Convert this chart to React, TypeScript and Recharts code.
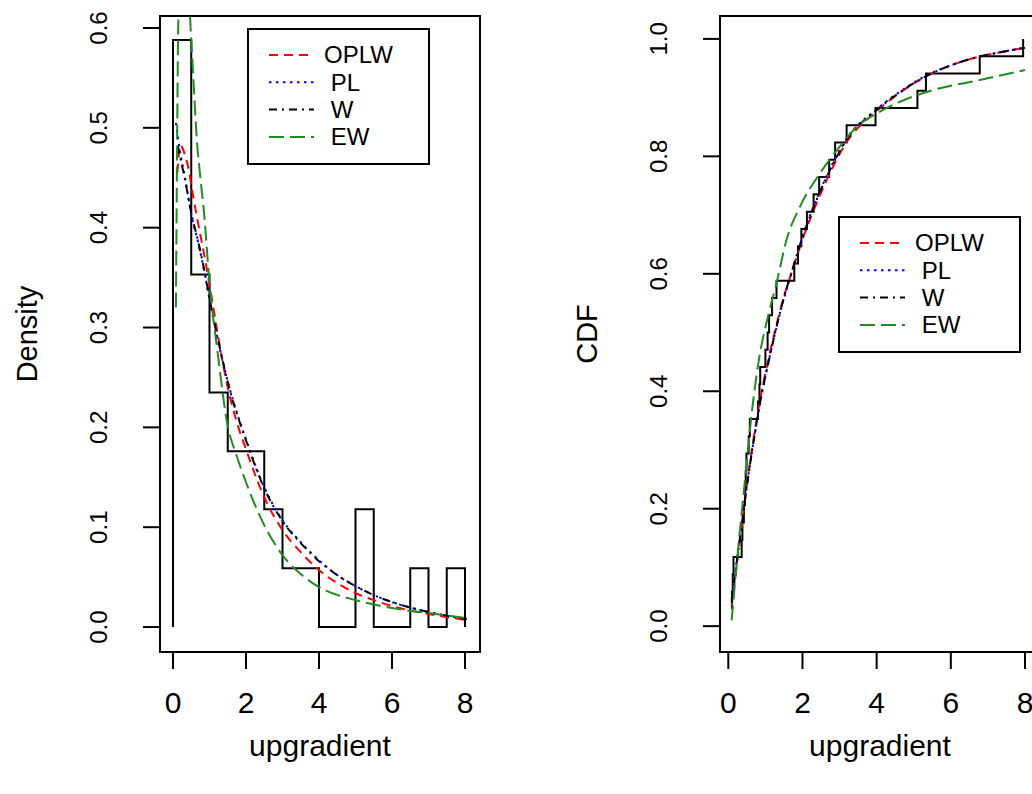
import React from 'react';
import { LineChart, Line, XAxis, YAxis, ReferenceArea, Legend } from 'recharts';

const FONT = '"Liberation Sans", Arial, Helvetica, sans-serif';

// ---- left panel: histogram (density scale, bins of 0.5) ----
const histBreaks = [0, 0.5, 1, 1.5, 2, 2.5, 3, 3.5, 4, 4.5, 5, 5.5, 6, 6.5, 7, 7.5, 8];
const histDensity = [0.588, 0.353, 0.235, 0.176, 0.176, 0.118, 0.059, 0.059, 0, 0, 0.118, 0, 0, 0.059, 0, 0.059];

// fitted densities
const pdfOplwX = [0.12, 0.2, 0.3, 0.42, 0.56, 0.69, 0.88, 1.06, 1.25, 1.5, 1.75, 2.0, 2.5, 3.0, 3.5, 4.0, 4.5, 5.0, 5.5, 6.0, 7.0, 8.05];
const pdfOplwY = [0.455, 0.483, 0.476, 0.46, 0.43, 0.404, 0.368, 0.33, 0.288, 0.24, 0.205, 0.178, 0.13, 0.097, 0.075, 0.057, 0.044, 0.034, 0.027, 0.021, 0.013, 0.007];

const pdfPlX = [0.08, 0.19, 0.33, 0.51, 0.69, 0.88, 1.0, 1.25, 1.56, 2.0, 2.5, 3.0, 3.5, 4.0, 4.5, 5.0, 5.5, 6.0, 7.0, 8.05];
const pdfPlY = [0.505, 0.477, 0.45, 0.412, 0.385, 0.352, 0.328, 0.284, 0.238, 0.188, 0.14, 0.107, 0.085, 0.067, 0.052, 0.041, 0.032, 0.025, 0.015, 0.008];

const pdfWX = [0.13, 0.2, 0.33, 0.51, 0.69, 0.88, 1.0, 1.25, 1.56, 2.0, 2.5, 3.0, 3.5, 4.0, 4.5, 5.0, 5.5, 6.0, 7.0, 8.05];
const pdfWY = [0.482, 0.47, 0.448, 0.413, 0.386, 0.353, 0.329, 0.285, 0.237, 0.187, 0.139, 0.106, 0.084, 0.066, 0.052, 0.041, 0.032, 0.025, 0.015, 0.008];

const pdfEwX = [0.08, 0.1, 0.13, 0.17, 0.22, 0.3, 0.38, 0.47, 0.55, 0.65, 0.75, 0.85, 1.0, 1.24, 1.48, 1.74, 2.0, 2.5, 3.0, 3.5, 4.0, 5.0, 6.0, 7.0, 8.05];
const pdfEwY = [0.32, 0.42, 0.56, 0.66, 0.73, 0.76, 0.7, 0.61, 0.555, 0.49, 0.45, 0.415, 0.345, 0.27, 0.205, 0.172, 0.145, 0.102, 0.072, 0.053, 0.04, 0.027, 0.019, 0.014, 0.009];

// ---- right panel: sorted sample for the empirical cdf ----
const sample = [
  0.09, 0.1, 0.12, 0.14, 0.36, 0.38, 0.42, 0.45, 0.47, 0.49,
  0.55, 0.58, 0.8, 0.84, 0.86, 1.0, 1.06, 1.1, 1.18, 1.3,
  1.78, 1.88, 1.97, 2.12, 2.3, 2.45, 2.72, 2.88, 3.19, 3.97,
  5.1, 5.33, 6.78, 7.95,
];

// fitted cdfs
const cdfX = [0.09, 0.23, 0.36, 0.5, 0.67, 0.9, 1.12, 1.48, 1.75, 2.02, 2.38, 2.83, 3.19, 4.0, 4.6, 5.35, 6.0, 6.78, 7.4, 8.0];
const cdfOplwY = [0.035, 0.105, 0.17, 0.24, 0.315, 0.4, 0.465, 0.557, 0.61, 0.662, 0.72, 0.783, 0.824, 0.877, 0.907, 0.937, 0.955, 0.97, 0.978, 0.985];
const cdfPlY = [0.045, 0.113, 0.175, 0.24, 0.31, 0.395, 0.46, 0.553, 0.611, 0.667, 0.727, 0.79, 0.83, 0.88, 0.909, 0.938, 0.955, 0.97, 0.978, 0.985];
const cdfWY = [0.04, 0.11, 0.172, 0.238, 0.31, 0.395, 0.46, 0.555, 0.612, 0.666, 0.726, 0.788, 0.828, 0.879, 0.908, 0.937, 0.955, 0.97, 0.978, 0.985];

const cdfEwX = [0.09, 0.27, 0.45, 0.63, 0.81, 1.08, 1.3, 1.57, 1.93, 2.47, 3.01, 3.46, 4.0, 4.63, 5.53, 6.78, 8.0];
const cdfEwY = [0.01, 0.135, 0.249, 0.362, 0.448, 0.53, 0.584, 0.658, 0.714, 0.771, 0.817, 0.85, 0.873, 0.893, 0.913, 0.93, 0.947];

const xTicks = [0, 2, 4, 6, 8];
const pdfTicks = [0, 0.1, 0.2, 0.3, 0.4, 0.5, 0.6];
const cdfTicks = [0, 0.2, 0.4, 0.6, 0.8, 1];

const SERIES = [
  { key: 'OPLW', label: 'OPLW', color: '#ff0000', dash: '9 6' },
  { key: 'PL', label: ' PL', color: '#0000ff', dash: '2.5 4.5' },
  { key: 'W', label: ' W', color: '#000000', dash: '8 5 2 5' },
  { key: 'EW', label: ' EW', color: '#228b22', dash: '15 6' },
];

const zip = (xs: number[], ys: number[]) => xs.map((x, i) => ({ x, y: ys[i] }));

// outline of the histogram: rise at the first break, one level per bin, drop at the last break
const histSteps = [
  { x: histBreaks[0], y: 0 },
  ...histDensity.map((d, i) => ({ x: histBreaks[i], y: d })),
  { x: histBreaks[histBreaks.length - 1], y: 0 },
];

const ecdfSteps = sample.map((x, i) => ({ x, y: (i + 1) / sample.length }));

const pdfCurves = [zip(pdfOplwX, pdfOplwY), zip(pdfPlX, pdfPlY), zip(pdfWX, pdfWY), zip(pdfEwX, pdfEwY)];
const cdfCurves = [zip(cdfX, cdfOplwY), zip(cdfX, cdfPlY), zip(cdfX, cdfWY), zip(cdfEwX, cdfEwY)];

const XTick = ({ x, y, payload }: any) => (
  <text x={x} y={y + 44} textAnchor="middle" fontSize={30} fontFamily={FONT} fill="#000">
    {payload.value}
  </text>
);

const YTick = ({ x, y, payload }: any) => (
  <text transform={`translate(${x - 36},${y}) rotate(-90)`} textAnchor="middle" fontSize={24} fontFamily={FONT} fill="#000">
    {Number(payload.value).toFixed(1)}
  </text>
);

// legend drawn in series order (the library hands the payload over reversed)
const LegendBox = () => (
  <svg width={183} height={137} style={{ display: 'block' }}>
    <rect x={1} y={1} width={181} height={135} fill="#fff" stroke="#000" strokeWidth={2} />
    {SERIES.map((s, i) => {
      const cy = 27 + i * 27.3;
      return (
        <g key={s.key}>
          <line x1={22} x2={67} y1={cy} y2={cy} stroke={s.color} strokeWidth={2} strokeDasharray={s.dash} />
          <text x={77} y={cy} dy="0.35em" fontSize={24} fontFamily={FONT} fill="#000" style={{ whiteSpace: 'pre' }}>
            {s.label}
          </text>
        </g>
      );
    })}
  </svg>
);

interface PanelProps {
  left: number;
  xDomain: [number, number];
  yDomain: [number, number];
  yTicks: number[];
  yTitle: string;
  steps: { x: number; y: number }[];
  curves: { x: number; y: number }[][];
  legendLeft: number;
  legendTop: number;
}

function Panel({ left, xDomain, yDomain, yTicks, yTitle, steps, curves, legendLeft, legendTop }: PanelProps) {
  return (
    <div style={{ position: 'absolute', left, top: 0 }}>
      <LineChart width={516} height={794} margin={{ top: 16, right: 36, bottom: 0, left: 0 }}>
        <XAxis
          type="number"
          dataKey="x"
          domain={xDomain}
          ticks={xTicks}
          interval={0}
          allowDataOverflow
          height={142}
          tickSize={17}
          tickMargin={0}
          axisLine={false}
          tickLine={{ stroke: '#000', strokeWidth: 2 }}
          tick={<XTick />}
          label={(p: any) => (
            <text x={p.viewBox.x + p.viewBox.width / 2} y={p.viewBox.y + 104} textAnchor="middle" fontSize={30} fontFamily={FONT} fill="#000">
              upgradient
            </text>
          )}
        />
        <YAxis
          type="number"
          domain={yDomain}
          ticks={yTicks}
          interval={0}
          allowDataOverflow
          width={160}
          tickSize={17}
          tickMargin={0}
          axisLine={false}
          tickLine={{ stroke: '#000', strokeWidth: 2 }}
          tick={<YTick />}
          label={(p: any) => (
            <text
              transform={`translate(${p.viewBox.x + 37},${p.viewBox.y + p.viewBox.height / 2}) rotate(-90)`}
              textAnchor="middle"
              fontSize={29}
              fontFamily={FONT}
              fill="#000"
            >
              {yTitle}
            </text>
          )}
        />
        <ReferenceArea x1={xDomain[0]} x2={xDomain[1]} y1={yDomain[0]} y2={yDomain[1]} fill="none" fillOpacity={0} stroke="#000" strokeWidth={2} ifOverflow="visible" />
        <Line data={steps} dataKey="y" type="stepAfter" stroke="#000" strokeWidth={2} dot={false} legendType="none" isAnimationActive={false} />
        {SERIES.map((s, i) => (
          <Line
            key={s.key}
            data={curves[i]}
            dataKey="y"
            name={s.label}
            type="monotone"
            stroke={s.color}
            strokeWidth={2}
            strokeDasharray={s.dash}
            dot={false}
            isAnimationActive={false}
          />
        ))}
        <Legend
          layout="vertical"
          align="center"
          verticalAlign="middle"
          content={<LegendBox />}
          wrapperStyle={{ position: 'absolute', left: legendLeft, top: legendTop, width: 183, height: 137 }}
        />
      </LineChart>
    </div>
  );
}

export default function App() {
  return (
    <div style={{ position: 'absolute', left: 0, top: 0, width: 1032, height: 794, overflow: 'hidden', background: '#fff' }}>
      <Panel
        left={0}
        xDomain={[-0.356, 8.411]}
        yDomain={[-0.025, 0.612]}
        yTicks={pdfTicks}
        yTitle="Density"
        steps={histSteps}
        curves={pdfCurves}
        legendLeft={247}
        legendTop={28}
      />
      <Panel
        left={560}
        xDomain={[-0.224, 8.405]}
        yDomain={[-0.044, 1.039]}
        yTicks={cdfTicks}
        yTitle="CDF"
        steps={ecdfSteps}
        curves={cdfCurves}
        legendLeft={278}
        legendTop={216}
      />
    </div>
  );
}
